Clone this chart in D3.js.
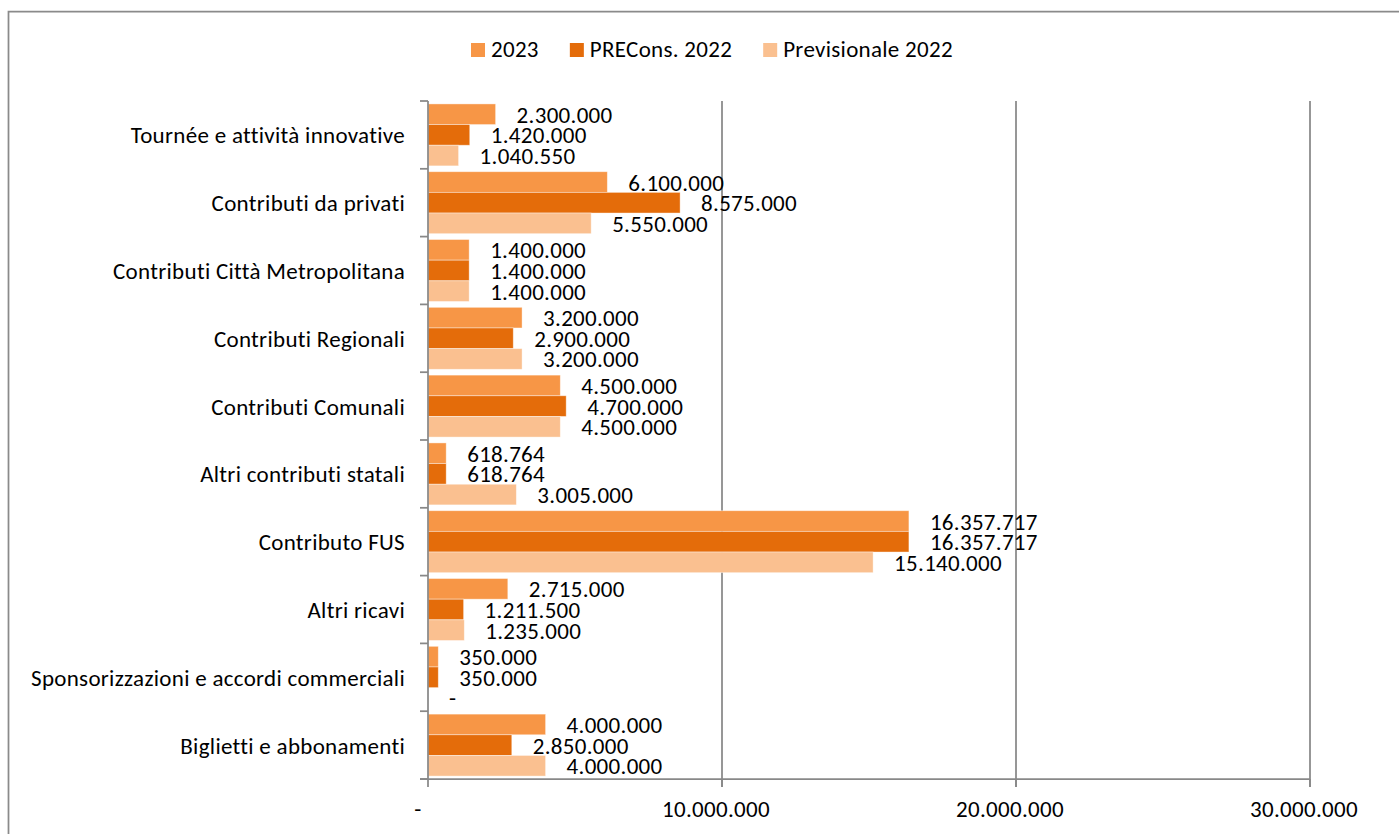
<!DOCTYPE html>
<html>
<head>
<meta charset="utf-8">
<script src="https://cdn.jsdelivr.net/npm/d3@7"></script>
<style>
html,body{margin:0;padding:0;background:#fff;}
svg{display:block;}
text{font-family:Carlito, Lato, "Open Sans", sans-serif;fill:#000;letter-spacing:0.3px;}
</style>
</head>
<body>
<svg id="chart" width="1399" height="834"></svg>
<script>
const categories = [
  "Tournée e attività innovative",
  "Contributi da privati",
  "Contributi Città Metropolitana",
  "Contributi Regionali",
  "Contributi Comunali",
  "Altri contributi statali",
  "Contributo FUS",
  "Altri ricavi",
  "Sponsorizzazioni e accordi commerciali",
  "Biglietti e abbonamenti"
];
const seriesNames = ["2023", "PRECons. 2022", "Previsionale 2022"];
const values2023 = [2300000, 6100000, 1400000, 3200000, 4500000, 618764, 16357717, 2715000, 350000, 4000000];
const valuesPRECons2022 = [1420000, 8575000, 1400000, 2900000, 4700000, 618764, 16357717, 1211500, 350000, 2850000];
const valuesPrevisionale2022 = [1040550, 5550000, 1400000, 3200000, 4500000, 3005000, 15140000, 1235000, 0, 4000000];
const xTicks = [0, 10000000, 20000000, 30000000];
const colors = ["#F79646", "#E46C0A", "#FAC090"];

(function(){
const series = [values2023, valuesPRECons2022, valuesPrevisionale2022];
const FS = 23;

const svg = d3.select("#chart");
const W = 1399, H = 834;

// frame
svg.append("path")
  .attr("d", `M8.5,${H+5} L8.5,11.5 L${W+5},11.5`)
  .attr("fill", "none").attr("stroke", "#8a8a8a").attr("stroke-width", 1.75);

const pLeft = 428, pRight = 1310, pTop = 101, pBottom = 779;
const x = d3.scaleLinear().domain([0, 30000000]).range([pLeft, pRight]);
const y = d3.scaleBand().domain(categories).range([pTop, pBottom]).paddingInner(0.086).paddingOuter(0.043);
const ySub = d3.scaleBand().domain([0,1,2]).range([0, y.bandwidth()]);

const fmt = v => v === 0 ? "-" : d3.format(",")(v).replace(/,/g, ".");

// gridlines
svg.append("g").selectAll("line").data(xTicks.slice(1)).join("line")
  .attr("x1", d => x(d)).attr("x2", d => x(d))
  .attr("y1", pTop).attr("y2", pBottom + 8)
  .attr("stroke", "#888").attr("stroke-width", 1.75);

// bars
const g = svg.append("g");
categories.forEach((c, i) => {
  series.forEach((s, k) => {
    const v = s[i];
    const y0 = y(c) + ySub(k);
    if (v > 0) {
      g.append("rect")
        .attr("x", x(0)).attr("y", y0)
        .attr("width", x(v) - x(0)).attr("height", ySub.bandwidth())
        .attr("fill", colors[k])
        .attr("stroke", "#fff").attr("stroke-opacity", 0.5).attr("stroke-width", 0.8);
    }
    g.append("text")
      .attr("x", x(v) + 21)
      .attr("y", y0 + ySub.bandwidth() / 2 + 8.5)
      .attr("font-size", FS)
      .text(fmt(v));
  });
});

// y axis
const yAxisG = svg.append("g");
yAxisG.append("line").attr("x1", pLeft).attr("x2", pLeft).attr("y1", pTop).attr("y2", pBottom)
  .attr("stroke", "#888").attr("stroke-width", 1.75);
const bounds = categories.map(c => y(c) - y.step() * y.paddingInner() / 2);
bounds.push(pBottom);
bounds[0] = pTop;
yAxisG.selectAll("line.tick").data(bounds).join("line").attr("class", "tick")
  .attr("x1", pLeft - 8).attr("x2", pLeft).attr("y1", d => d).attr("y2", d => d)
  .attr("stroke", "#888").attr("stroke-width", 1.75);
yAxisG.selectAll("text").data(categories).join("text")
  .attr("x", 405).attr("y", d => y(d) + y.bandwidth() / 2 + 8.5)
  .attr("text-anchor", "end").attr("font-size", FS)
  .text(d => d);

// x axis
const xAxisG = svg.append("g");
xAxisG.append("line").attr("x1", pLeft - 8).attr("x2", pRight).attr("y1", pBottom).attr("y2", pBottom)
  .attr("stroke", "#888").attr("stroke-width", 1.75);
xAxisG.selectAll("line.tick").data(xTicks).join("line").attr("class", "tick")
  .attr("x1", d => x(d)).attr("x2", d => x(d)).attr("y1", pBottom).attr("y2", pBottom + 8)
  .attr("stroke", "#888").attr("stroke-width", 1.75);
xAxisG.selectAll("text").data(xTicks).join("text")
  .attr("x", d => d === 0 ? x(d) - 10 : x(d) - 6)
  .attr("y", 817)
  .attr("text-anchor", "middle").attr("font-size", FS)
  .text(d => fmt(d));

// legend
const legend = svg.append("g");
let lx = 471;
seriesNames.forEach((n, k) => {
  legend.append("rect").attr("x", lx).attr("y", 43).attr("width", 14).attr("height", 14).attr("fill", colors[k]);
  const t = legend.append("text").attr("x", lx + 20).attr("y", 57).attr("font-size", FS).text(n);
  const w = t.node().getComputedTextLength();
  lx = lx + 20 + w + 31;
});
})();
</script>
</body>
</html>
